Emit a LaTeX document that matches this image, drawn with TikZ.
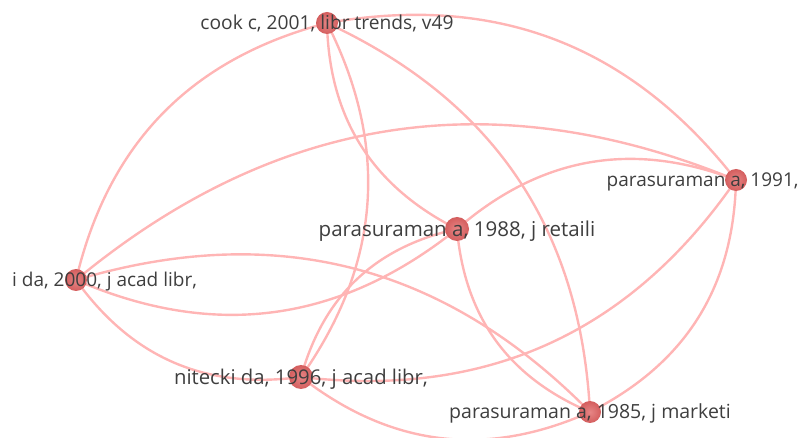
\documentclass[tikz,border=0pt]{standalone}
\usepackage{fontspec}
\setmainfont{Open Sans}
\definecolor{linkpink}{HTML}{FFB5B5}
\definecolor{nodered}{HTML}{E27070}
\definecolor{nodedark}{HTML}{D45E5E}
\definecolor{labelgray}{HTML}{3E3E3E}
\tikzset{
  link/.style={draw=linkpink, line width=2.4pt, bend left=31},
  pub/.style={circle, minimum size=#1, inner sep=0pt,
    shading=radial, inner color=nodered!85!white, outer color=nodedark},
  pub/.default=22pt,
  lbl/.style={text=labelgray, font=\fontsize{#1}{24}\selectfont, inner sep=0pt,
    anchor=base, yshift=-0.355*#1},
  lbl/.default=19.2pt,
  lblw/.style={lbl=#1, anchor=base west}
}
\begin{document}
\begin{tikzpicture}[x=1pt, y=-1pt]
  \useasboundingbox (0,0) rectangle (804,438);

  % publication positions
  \coordinate (cook) at (327,23);
  \coordinate (p88)  at (457,229);
  \coordinate (nit0) at (76,280);
  \coordinate (p91)  at (736,180);
  \coordinate (nit6) at (301,377);
  \coordinate (p85)  at (590,412);

  % co-citation links
  \path[link] (cook) to (p91);
  \path[link] (nit0) to (cook);
  \path[link] (p88)  to (cook);
  \path[link] (cook) to (nit6);
  \path[link] (cook) to (p85);
  \path[link] (nit0) to (p91);
  \path[link] (p88)  to (nit0);
  \path[link] (nit0) to (p85);
  \path[link] (nit6) to (nit0);
  \path[link] (p88)  to (p91);
  \path[link] (nit6) to (p88);
  \path[link] (p85)  to (p88);
  \path[link] (p91)  to (nit6);
  \path[link] (p85)  to (nit6);
  \path[link] (p91)  to (p85);

  % publication circles, sized by weight
  \node[pub=22pt] (c-cook) at (cook) {};
  \node[pub=24pt] (c-p88)  at (p88)  {};
  \node[pub=22pt] (c-nit0) at (nit0) {};
  \node[pub=22pt] (c-p91)  at (p91)  {};
  \node[pub=24pt] (c-nit6) at (nit6) {};
  \node[pub=22pt] (c-p85)  at (p85)  {};

  % labels
  \node[lbl=19.2pt] (l-cook) at (cook) {cook c, 2001, libr trends, v49};
  \node[lbl=20.5pt] (l-p88)  at (p88)  {parasuraman a, 1988, j retaili};
  \node[lbl=20.3pt] (l-nit6) at (nit6) {nitecki da, 1996, j acad libr,};
  \node[lbl=19.5pt] (l-p85)  at (p85)  {parasuraman a, 1985, j marketi};
  \node[lblw=19pt] (l-nit0) at (12,280) {i da, 2000, j acad libr,};
  \node[lblw=19pt] (l-p91)  at (606.5,180) {parasuraman a, 1991,};
\end{tikzpicture}
\end{document}
